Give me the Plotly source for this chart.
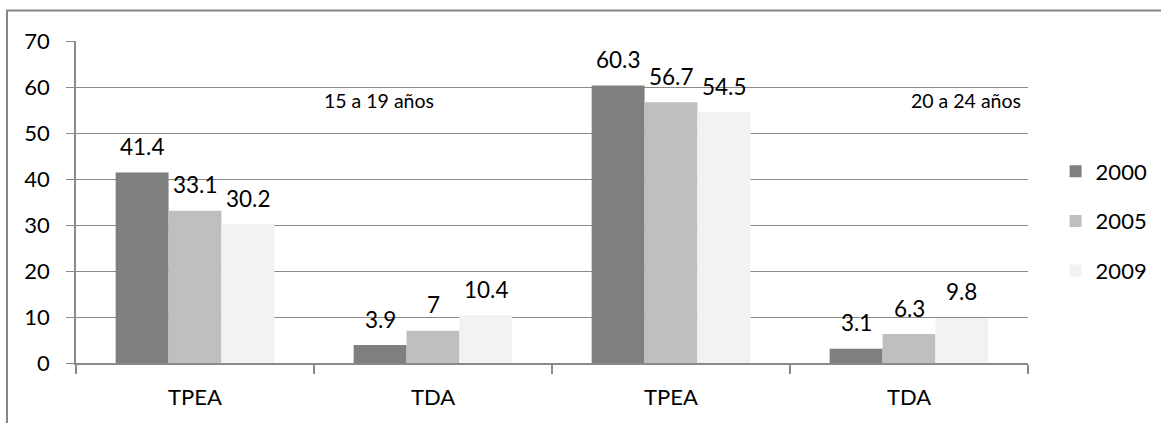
import plotly.graph_objects as go

# Indicators by age group
categories = ["TPEA", "TDA", "TPEA", "TDA"]
age_groups = ["15 a 19 años", "20 a 24 años"]
years = ["2000", "2005", "2009"]
values_2000 = [41.4, 3.9, 60.3, 3.1]
values_2005 = [33.1, 7.0, 56.7, 6.3]
values_2009 = [30.2, 10.4, 54.5, 9.8]

series = [values_2000, values_2005, values_2009]
colors = ["#7f7f7f", "#bfbfbf", "#f2f2f2"]

FONT = "Lato"
GRID = "#8a8a8a"
BARGAP = 1.5 / 4.5

positions = list(range(len(categories)))

fig = go.Figure()
for i, (year, vals, col) in enumerate(zip(years, series, colors)):
    fig.add_trace(go.Bar(
        x=positions, y=vals, name=year, marker=dict(color=col, line=dict(width=0)),
        legendgroup=year,
    ))

# value labels above each bar, placed from the bar's value and group offset
bar_w = (1 - BARGAP) / len(years)
annotations = []
for i, vals in enumerate(series):
    off = (i - (len(years) - 1) / 2) * bar_w
    for p, v in zip(positions, vals):
        annotations.append(dict(
            x=p + off, y=v, xref="x", yref="y", text=f"{v:g}", showarrow=False,
            yanchor="middle", yshift=26, font=dict(family=FONT, size=22.5, color="#000"),
        ))

# age-group captions
for txt, px in zip(age_groups, [0.3188, 0.9344]):
    annotations.append(dict(
        x=px, y=0.8137, xref="paper", yref="paper", text=txt, showarrow=False,
        xanchor="center", yanchor="middle", font=dict(family=FONT, size=19.5, color="#000"),
    ))

fig.update_layout(
    width=1161, height=423,
    margin=dict(l=76, r=133, t=41, b=60, autoexpand=False),
    paper_bgcolor="white", plot_bgcolor="white",
    barmode="group", bargap=BARGAP, bargroupgap=0,
    font=dict(family=FONT, size=22, color="#000"),
    annotations=annotations,
    legend=dict(
        x=1.029, xanchor="left", y=0.441, yanchor="middle",
        font=dict(family=FONT, size=22, color="#000"),
        tracegroupgap=18, itemwidth=30, bgcolor="rgba(0,0,0,0)",
    ),
    shapes=[dict(
        type="rect", xref="paper", yref="paper",
        x0=-0.0725, x1=1.16, y0=-0.25, y1=1.0947,
        line=dict(color="#868686", width=2), fillcolor="rgba(0,0,0,0)", layer="below",
    )],
)

fig.update_xaxes(
    range=[-0.5, len(categories) - 0.5],
    tickmode="array", tickvals=positions, ticktext=categories,
    ticks="", showgrid=False, zeroline=False,
    showline=True, linecolor=GRID, linewidth=1.5,
    ticklabelstandoff=14,
    minor=dict(tickmode="array", tickvals=[p - 0.5 for p in positions] + [positions[-1] + 0.5],
               ticks="outside", ticklen=9, tickcolor=GRID, tickwidth=1.5, showgrid=False),
)
fig.update_yaxes(
    range=[0, 70], dtick=10, tick0=0,
    showgrid=True, gridcolor=GRID, gridwidth=1.3, zeroline=False,
    showline=True, linecolor=GRID, linewidth=1.5,
    ticks="outside", ticklen=8, tickcolor=GRID, tickwidth=1.3,
    ticklabelstandoff=12,
)

fig.write_html("out.html")
